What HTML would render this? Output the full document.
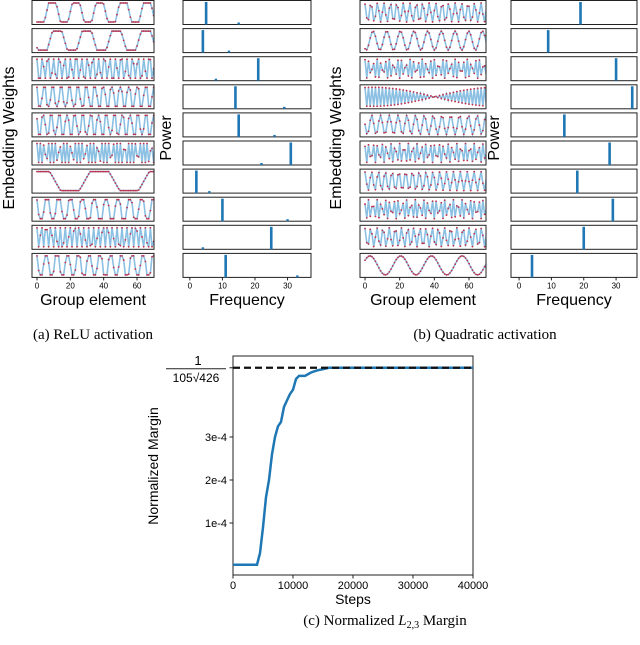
<!DOCTYPE html>
<html><head><meta charset="utf-8"><style>
body{margin:0;background:#fff;}
svg{display:block;font-family:"Liberation Sans",sans-serif;}
.cap{font-family:"Liberation Serif",serif;font-size:15px;}
</style></head><body>
<svg id="fig" width="640" height="645" viewBox="0 0 640 645">
<defs id="defs"></defs>
<g id="gA"></g>
<g id="gB"></g>
<g id="gC"></g>
<text class="cap" x="93" y="339" text-anchor="middle">(a) ReLU activation</text>
<text class="cap" x="485" y="339" text-anchor="middle">(b) Quadratic activation</text>
<text class="cap" x="385" y="625" text-anchor="middle">(c) Normalized <tspan font-style="italic">L</tspan><tspan font-size="10" dy="3">2,3</tspan><tspan dy="-3"> Margin</tspan></text>
</svg>
<script>
// ---- data ----
const reluFreqs = [5,4,21,14,15,31,2,10,25,11];
const reluHarm  = [15,12,8,29,26,22,6,30,4,33];
const reluPhase = [2.2,2.0,0.3,0.9,1.2,0.5,-0.35,1.0,0.4,0.9];
const quadFreqs = [19,9,30,35,14,28,18,29,20,4];
const quadPhase = [0.5,2.6,0.3,0.2,1.5,0.8,0.3,1.0,0.4,-1.0];
const marginSteps = [0,4000,4500,5000,5500,6000,6500,7000,7500,8000,8500,9000,9500,10000,10500,11000,12000,13000,14000,15000,16000,20000,30000,40000];
const marginVals  = [0.03,0.03,0.3,0.9,1.6,2.0,2.6,3.0,3.25,3.35,3.7,3.85,4.0,4.1,4.35,4.42,4.42,4.5,4.55,4.58,4.61,4.61,4.61,4.61];
const marginTarget = 4.61;
const xTicks = [0,10000,20000,30000,40000];
const yTicks = [1,2,3];
const yTickLabels = ['1e-4','2e-4','3e-4'];
const groupTicks = [0,20,40,60];
const freqTicks = [0,10,20,30];

const NS='http://www.w3.org/2000/svg';
const defs=document.getElementById('defs');
let clipId=0;
function mk(parent,tag,attrs){const e=document.createElementNS(NS,tag);for(const k in attrs)e.setAttribute(k,attrs[k]);parent.appendChild(e);return e;}
function txt(parent,x,y,s,size,anchor,extra){const t=mk(parent,'text',Object.assign({x:x,y:y,'font-size':size,'text-anchor':anchor||'middle'},extra||{}));t.textContent=s;return t;}

function panel(g,freqs,phases,harm,relu,ex,ew,g0,gs,N,px,pw,f0,fs,cx){
  for(let i=0;i<freqs.length;i++){
    const top=0.5+i*28.1,h=24;
    const id='c'+(clipId++);
    const cp=mk(defs,'clipPath',{id:id});
    mk(cp,'rect',{x:ex,y:top,width:ew,height:h});
    const ea=mk(g,'g',{});
    
    
    mk(ea,'rect',{x:ex,y:top,width:ew,height:h,fill:'#fff'});
    const inner=mk(ea,'g',{'clip-path':'url(#'+id+')'});
    const ys=v=>top+h/2-v*(h/2-2.5);
    let pts=[];const vals=[];
    for(let n=0;n<N;n++){let v=Math.cos(2*Math.PI*freqs[i]*n/N+phases[i]);if(relu)v=Math.max(-1,Math.min(1,1.8*v));vals.push(v);pts.push((ex+(n-g0)*gs).toFixed(1)+','+ys(v).toFixed(1));}
    mk(inner,'polyline',{points:pts.join(' '),fill:'none',stroke:'#8cc0e3','stroke-width':1.6});
    vals.forEach((v,n)=>mk(inner,'circle',{cx:ex+(n-g0)*gs,cy:ys(v),r:0.9,fill:'#c0304a'}));
    mk(ea,'rect',{x:ex,y:top,width:ew,height:h,fill:'none',stroke:'#222','stroke-width':1});
    const pa=mk(g,'g',{});
    
    
    mk(pa,'rect',{x:px,y:top,width:pw,height:h,fill:'#fff',stroke:'#222','stroke-width':1});
    mk(pa,'rect',{x:px+(freqs[i]-f0)*fs-1.3,y:top+1.5,width:2.6,height:h-1.5,fill:'#1f77b4'});
    if(harm){mk(pa,'rect',{x:px+(harm[i]-f0)*fs-1.2,y:top+h-2,width:2.4,height:2,fill:'#1f77b4'});}
  }
  const by=0.5+9*28.1+24;
  groupTicks.forEach(t=>{const x=ex+(t-g0)*gs;mk(g,'line',{x1:x,y1:by,x2:x,y2:by+3,stroke:'#222'});txt(g,x,by+11,String(t),8);});
  freqTicks.forEach(t=>{const x=px+(t-f0)*fs;mk(g,'line',{x1:x,y1:by,x2:x,y2:by+3,stroke:'#222'});txt(g,x,by+11,String(t),8);});
  txt(g,ex+ew/2,305,'Group element',16);
  txt(g,px+pw/2,305,'Frequency',16);
  const yl=txt(g,0,0,'Embedding Weights',16,'middle',{transform:'translate('+(cx)+',138) rotate(-90)'});
  
  const pl=txt(g,0,0,'Power',16,'middle',{transform:'translate('+(px-12)+',138) rotate(-90)'});
  
}
panel(document.getElementById('gA'),reluFreqs,reluPhase,reluHarm,true,32,122,-3,1.667,71,183,128,-2.1,3.257,14);
panel(document.getElementById('gB'),quadFreqs,quadPhase,null,false,360,126,-2.9,1.733,71,511,126,-2.5,3.233,341);

// ---- margin chart ----
const gC=document.getElementById('gC');
const X0=233,X1=473,Y0=356,Y1=575;
const xs=v=>X0+(v/40000)*(X1-X0);
const ysC=v=>566-v*43;
mk(gC,'rect',{x:X0,y:Y0,width:X1-X0,height:Y1-Y0,fill:'#fff',stroke:'#222','stroke-width':1});
xTicks.forEach(t=>{const x=xs(t);mk(gC,'line',{x1:x,y1:Y1,x2:x,y2:Y1+3.5,stroke:'#222'});const e=txt(gC,x,Y1+14,String(t),11);});
yTicks.forEach((t,i)=>{const y=ysC(t);mk(gC,'line',{x1:X0-3.5,y1:y,x2:X0,y2:y,stroke:'#222'});const e=txt(gC,X0-6,y+4,yTickLabels[i],11,'end');});
const ty=ysC(marginTarget);
mk(gC,'line',{x1:X0-3.5,y1:ty,x2:X0,y2:ty,stroke:'#222'});
txt(gC,198,ty-3,'1',13);
mk(gC,'line',{x1:166,y1:ty+1,x2:226,y2:ty+1,stroke:'#222','stroke-width':1});
txt(gC,196,ty+14,'105√426',12);
const cp=marginSteps.map((s,i)=>xs(s).toFixed(1)+','+ysC(marginVals[i]).toFixed(1)).join(' ');
const curve=mk(gC,'polyline',{points:cp,fill:'none',stroke:'#1f77b4','stroke-width':2.5});


const tl=mk(gC,'line',{x1:X0,y1:ty,x2:X1,y2:ty,stroke:'#111','stroke-width':2.2,'stroke-dasharray':'7,4'});


const st=txt(gC,(X0+X1)/2,604,'Steps',14);

const nm=txt(gC,0,0,'Normalized Margin',14,'middle',{transform:'translate(158,466) rotate(-90)'});

</script>
</body></html>
